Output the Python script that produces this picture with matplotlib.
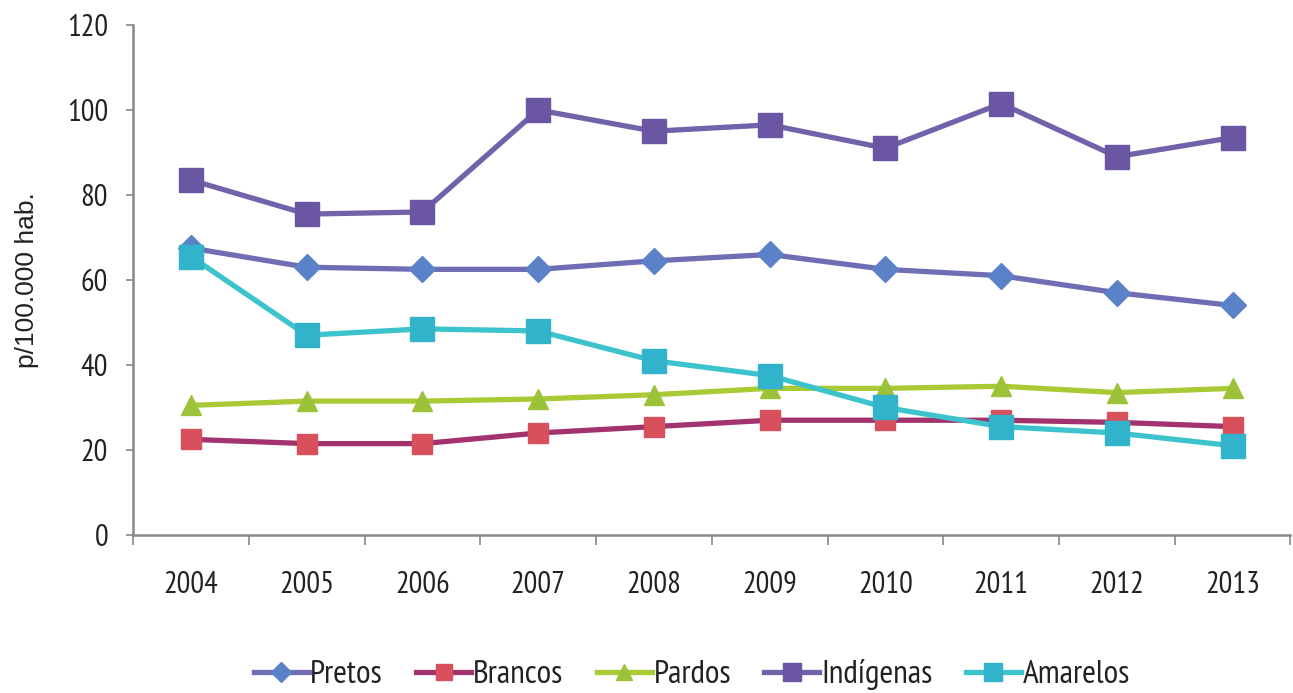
import matplotlib
matplotlib.use("Agg")
import matplotlib.pyplot as plt
from matplotlib.ticker import FixedLocator, NullFormatter

years = ["2004", "2005", "2006", "2007", "2008", "2009", "2010", "2011", "2012", "2013"]

pretos = [67.5, 63, 62.5, 62.5, 64.5, 66, 62.5, 61, 57, 54]
brancos = [22.5, 21.5, 21.5, 24, 25.5, 27, 27, 27, 26.5, 25.5]
pardos = [30.5, 31.5, 31.5, 32, 33, 34.5, 34.5, 35, 33.5, 34.5]
indigenas = [83.5, 75.5, 76, 100, 95, 96.5, 91, 101.5, 89, 93.5]
amarelos = [65.5, 47, 48.5, 48, 41, 37.5, 30, 25.5, 24, 21]

series = [
    ("Pretos", pretos, "#6f6db3", "#5b82c8", "D", 13),
    ("Brancos", brancos, "#a3336e", "#d8505c", "s", 15),
    ("Pardos", pardos, "#a9c935", "#9cc23a", "^", 15),
    ("Indígenas", indigenas, "#7262aa", "#6a56a2", "s", 17),
    ("Amarelos", amarelos, "#3dc3cb", "#31b3cb", "s", 17),
]

narrow = ["Nimbus Sans Narrow", "Liberation Sans Narrow", "Arial Narrow",
          "PT Sans Narrow", "Archivo Narrow", "Liberation Sans", "DejaVu Sans"]
plt.rcParams["font.family"] = narrow

fig = plt.figure(figsize=(12.93, 6.93), dpi=100)
ax = fig.add_axes([0.103, 0.228, 0.895, 0.736])

x = list(range(len(years)))
for name, vals, lc, mc, mk, ms in series:
    ax.plot(x, vals, color=lc, lw=3.8, marker=mk, markersize=ms,
            markerfacecolor=mc, markeredgecolor=mc, label=name)

ax.set_xlim(-0.5, len(years) - 0.5)
ax.set_ylim(0, 120)
ax.set_yticks(range(0, 121, 20))
ax.set_xticks(x)
ax.set_xticklabels(years)
ax.xaxis.set_minor_locator(FixedLocator([i - 0.5 for i in range(len(years) + 1)]))
ax.xaxis.set_minor_formatter(NullFormatter())
ax.tick_params(axis="x", which="major", length=0, pad=26, labelsize=22, labelcolor="#222222")
ax.tick_params(axis="x", which="minor", length=7, color="#888888", width=1.2)
ax.tick_params(axis="y", length=5, color="#888888", width=1.2, labelsize=22, pad=13,
               labelcolor="#222222")

for s in ["top", "right"]:
    ax.spines[s].set_visible(False)
for s in ["left", "bottom"]:
    ax.spines[s].set_color("#888888")
    ax.spines[s].set_linewidth(1.8)

ax.set_ylabel("p/100.000 hab.", fontsize=19, family=["Liberation Sans", "DejaVu Sans"],
              labelpad=20, color="#222222")

leg = fig.legend(loc="center", bbox_to_anchor=(0.535, 0.026), ncol=5, frameon=False,
                 fontsize=24, handlelength=1.65, handletextpad=0.05, columnspacing=1.0,
                 markerscale=0.8)
for t in leg.get_texts():
    t.set_color("#222222")

fig.savefig("out.png", dpi=100)
